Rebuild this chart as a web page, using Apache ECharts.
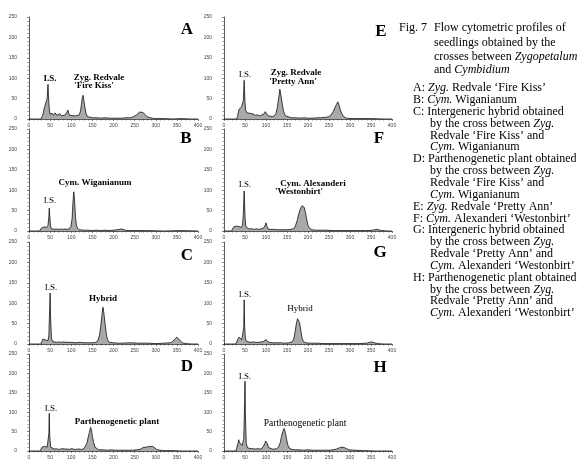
<!DOCTYPE html>
<html><head><meta charset="utf-8">
<script src="https://cdn.jsdelivr.net/npm/echarts@6/dist/echarts.min.js"></script>
<style>html,body{margin:0;padding:0;background:#fff}#c{width:581px;height:460px}</style>
</head><body><div id="c"></div>
<script>
// Flow cytometry histograms: [relative fluorescence channel, number of nuclei]
var histA = [[0,0],[28,0],[30,4],[33,10],[35,22],[37,30],[39,26],[41,34],[43,50],[44,70],[45,85],[46,60],[47,40],[48,25],[50,12],[52,8],[55,14],[58,9],[62,15],[66,9],[70,10],[73,13],[76,8],[80,8],[84,9],[88,12],[90,17],[92,22],[94,14],[96,9],[100,7],[104,8],[108,6],[112,8],[116,7],[119,10],[122,20],[124,35],[126,52],[128,58],[130,45],[132,30],[135,14],[138,6],[142,4],[150,3],[160,3],[170,2],[180,3],[190,2],[200,2],[210,2],[220,2],[230,3],[240,3],[248,6],[254,10],[258,14],[262,17],[266,19],[270,16],[274,12],[278,7],[284,4],[292,2],[300,1],[320,1],[340,0],[360,1],[380,0],[400,0]];
var histB = [[0,0],[25,0],[27,3],[30,8],[33,6],[36,10],[39,7],[42,9],[45,14],[47,35],[48,56],[49,40],[51,12],[53,6],[56,5],[60,4],[65,5],[70,4],[75,5],[80,4],[85,5],[90,4],[95,5],[99,10],[102,30],[104,70],[106,96],[108,72],[110,35],[112,15],[115,6],[120,3],[130,2],[140,2],[150,1],[160,2],[170,1],[180,2],[190,1],[200,2],[208,3],[211,6],[214,4],[217,7],[220,5],[223,3],[230,1],[250,1],[280,1],[320,0],[360,1],[400,0]];
var histC = [[0,0],[28,0],[30,5],[33,12],[36,15],[39,10],[42,14],[45,8],[47,20],[49,90],[50,125],[51,70],[53,15],[56,6],[60,5],[65,4],[70,5],[75,4],[80,5],[90,4],[100,4],[110,3],[120,4],[130,3],[140,3],[150,3],[158,4],[163,8],[167,22],[170,45],[173,75],[175,90],[177,78],[180,50],[183,25],[186,10],[190,4],[200,3],[210,2],[220,2],[240,3],[260,2],[280,2],[300,1],[320,2],[335,3],[340,6],[345,12],[350,17],[354,13],[358,8],[363,3],[370,1],[385,0],[400,0]];
var histD = [[0,0],[26,0],[28,4],[31,10],[34,15],[37,12],[40,16],[43,10],[45,12],[47,45],[48,97],[49,40],[51,10],[55,6],[60,5],[65,6],[70,4],[75,5],[80,6],[85,5],[90,5],[95,4],[100,6],[105,5],[110,4],[115,5],[120,5],[125,4],[130,6],[134,10],[137,20],[140,35],[143,48],[146,61],[148,52],[150,38],[153,22],[156,10],[160,5],[165,3],[175,3],[185,2],[195,3],[205,2],[215,2],[225,2],[235,2],[245,2],[255,3],[265,5],[270,9],[274,11],[278,10],[282,13],[286,12],[290,10],[294,11],[298,7],[302,4],[310,2],[320,1],[340,1],[360,0],[400,0]];
var histE = [[0,0],[30,0],[32,6],[34,15],[36,24],[38,28],[40,22],[42,30],[44,26],[46,45],[48,95],[50,40],[52,20],[55,15],[58,12],[62,14],[66,10],[70,12],[75,9],[80,10],[85,8],[90,10],[95,12],[98,18],[100,22],[102,15],[105,8],[110,7],[115,6],[120,8],[124,14],[127,28],[130,50],[133,73],[136,55],[139,35],[142,18],[146,8],[150,4],[160,3],[170,3],[180,2],[190,3],[200,2],[210,2],[220,3],[230,3],[240,4],[248,5],[255,10],[260,18],[264,28],[268,36],[271,42],[274,34],[277,22],[281,12],[286,5],[292,2],[300,1],[320,1],[350,1],[380,0],[400,0]];
var histF = [[0,0],[18,0],[20,4],[23,10],[26,14],[29,12],[32,16],[35,11],[38,13],[41,9],[44,14],[46,40],[48,98],[50,35],[52,10],[55,6],[60,5],[65,6],[70,4],[75,5],[80,5],[85,4],[90,6],[95,8],[98,14],[100,20],[102,12],[105,5],[110,4],[120,4],[130,3],[140,3],[150,3],[160,4],[166,6],[170,12],[174,25],[178,42],[182,55],[186,62],[188,66],[191,58],[194,45],[197,28],[200,14],[204,6],[210,3],[220,2],[240,2],[260,1],[280,1],[300,1],[320,1],[340,1],[355,2],[362,4],[368,3],[375,1],[390,0],[400,0]];
var histG = [[0,0],[28,0],[30,5],[33,12],[36,17],[39,14],[42,10],[45,12],[47,40],[48,108],[49,45],[51,12],[54,6],[58,5],[64,4],[70,5],[76,4],[82,4],[88,5],[94,6],[98,9],[100,11],[103,6],[108,4],[115,3],[125,3],[135,3],[145,2],[155,3],[162,5],[166,12],[169,28],[172,48],[175,62],[177,65],[180,52],[183,32],[186,14],[189,6],[194,3],[205,2],[220,2],[240,1],[260,1],[280,1],[300,1],[320,1],[340,2],[346,4],[352,5],[358,3],[365,1],[380,0],[400,0]];
var histH = [[0,0],[28,0],[30,6],[33,18],[35,29],[37,22],[39,26],[41,18],[43,14],[45,12],[47,30],[49,120],[50,180],[51,90],[53,20],[56,8],[60,7],[65,6],[70,6],[75,5],[80,6],[85,5],[90,6],[94,10],[97,18],[99,26],[101,29],[103,20],[106,9],[110,6],[115,5],[120,5],[125,6],[130,10],[134,22],[137,38],[140,50],[143,58],[146,48],[149,30],[152,15],[156,7],[162,4],[170,3],[180,3],[190,2],[200,3],[210,2],[220,2],[230,2],[240,2],[250,2],[260,3],[268,5],[274,8],[280,10],[286,9],[292,6],[298,3],[310,2],[330,1],[360,0],[400,0]];

var panelLetters = ['A','B','C','D','E','F','G','H'];
var panelData = [histA, histB, histC, histD, histE, histF, histG, histH];
var xTicks = {min: 0, max: 400, interval: 50};
var yTicks = {min: 0, max: 250, interval: 50};

var colLeft = [29, 224], colWidth = [169, 168];
var rowTop = [17, 129, 242, 354], rowH = [102, 102, 102, 103];

var grids = [], xAxes = [], yAxes = [], series = [];
for (var i = 0; i < 8; i++) {
  var col = i < 4 ? 0 : 1, row = i % 4;
  grids.push({left: colLeft[col], top: rowTop[row], width: colWidth[col], height: rowH[row]});
  xAxes.push({type: 'value', gridIndex: i, min: xTicks.min, max: xTicks.max, interval: xTicks.interval,
    axisLine: {lineStyle: {color: '#333', width: 0.8}}, axisTick: {length: 2, lineStyle: {color: '#333', width: 0.6}},
    minorTick: {show: true, splitNumber: 5, length: 1.5, lineStyle: {color: '#333', width: 0.5}},
    splitLine: {show: false},
    axisLabel: {fontSize: 5, color: '#444', margin: 4, fontFamily: 'Liberation Sans'}});
  yAxes.push({type: 'value', gridIndex: i, min: yTicks.min, max: yTicks.max, interval: yTicks.interval,
    axisLine: {show: true, lineStyle: {color: '#333', width: 0.8}}, axisTick: {show: true, length: 2, lineStyle: {color: '#333', width: 0.6}},
    minorTick: {show: true, splitNumber: 5, length: 1.5, lineStyle: {color: '#333', width: 0.5}},
    splitLine: {show: false},
    axisLabel: {fontSize: 5, color: '#444', margin: 12, fontFamily: 'Liberation Sans'}});
  series.push({type: 'line', name: panelLetters[i], xAxisIndex: i, yAxisIndex: i, data: panelData[i],
    symbol: 'none', animation: false,
    lineStyle: {color: '#111', width: 0.8},
    areaStyle: {color: '#a9a9a9', opacity: 1}});
}

var serif = 'Liberation Serif';
var graphics = [];
function txt(t, x, y, size, bold, align, rich) {
  var s = {text: t, x: x, y: y, fill: '#000', font: (bold ? 'bold ' : '') + size + 'px "' + serif + '"',
    align: align || 'center', verticalAlign: 'middle'};
  if (rich) s.rich = rich;
  graphics.push({type: 'text', silent: true, style: s});
}
// Panel letters
var letterPos = [[187,30],[186,139],[187,256],[187,367],[381,32],[379,139],[380,253],[380,368]];
for (var k = 0; k < 8; k++) txt(panelLetters[k], letterPos[k][0], letterPos[k][1], 17, true);

// Peak annotations
var annots = [
  ['I.S.', 50, 79, 9, true], ['Zyg. Redvale', 99, 78, 9, true], ["'Fire Kiss'", 94, 86, 9, true],
  ['I.S.', 245, 75, 9, false], ['Zyg. Redvale', 296, 73, 9, true], ["'Pretty Ann'", 293, 82, 9, true],
  ['I.S.', 50, 201, 9, false], ['Cym. Wiganianum', 95, 183, 9, true],
  ['I.S.', 245, 185, 9, false], ['Cym. Alexanderi', 313, 184, 9, true], ["'Westonbirt'", 299, 192, 9, true],
  ['I.S.', 51, 288, 9, false], ['Hybrid', 103, 299, 9, true],
  ['I.S.', 245, 295, 9, false], ['Hybrid', 300, 309, 9, false],
  ['I.S.', 51, 409, 9, false], ['Parthenogenetic plant', 117, 422, 9, true],
  ['I.S.', 245, 377, 9, false], ['Parthenogenetic plant', 305, 423, 9.5, false]
];
annots.forEach(function(a){ txt(a[0], a[1], a[2], a[3], a[4]); });

// Caption
var rich = {i: {fontStyle: 'italic', fontSize: 12, fontFamily: serif}};
txt('Fig. 7', 399, 28, 12, false, 'left');
var capHead = ['Flow cytometric profiles of', 'seedlings obtained by the', 'crosses between {i|Zygopetalum}', 'and {i|Cymbidium}'];
var capHeadY = [28, 43, 57, 70];
capHead.forEach(function(t, j){ txt(t, 434, capHeadY[j], 12, false, 'left', rich); });
var capLines = [
  ['A: {i|Zyg.} Redvale \u2018Fire Kiss\u2019', 0],
  ['B: {i|Cym.} Wiganianum', 0],
  ['C: Intergeneric hybrid obtained', 0],
  ['by the cross between {i|Zyg.}', 1],
  ['Redvale \u2018Fire Kiss\u2019 and', 1],
  ['{i|Cym.} Wiganianum', 1],
  ['D: Parthenogenetic plant obtained', 0],
  ['by the cross between {i|Zyg.}', 1],
  ['Redvale \u2018Fire Kiss\u2019 and', 1],
  ['{i|Cym.} Wiganianum', 1],
  ['E: {i|Zyg.} Redvale \u2018Pretty Ann\u2019', 0],
  ['F: {i|Cym.} Alexanderi \u2018Westonbirt\u2019', 0],
  ['G: Intergeneric hybrid obtained', 0],
  ['by the cross between {i|Zyg.}', 1],
  ['Redvale \u2018Pretty Ann\u2019 and', 1],
  ['{i|Cym.} Alexanderi \u2018Westonbirt\u2019', 1],
  ['H: Parthenogenetic plant obtained', 0],
  ['by the cross between {i|Zyg.}', 1],
  ['Redvale \u2018Pretty Ann\u2019 and', 1],
  ['{i|Cym.} Alexanderi \u2018Westonbirt\u2019', 1]
];
capLines.forEach(function(c, j){ txt(c[0], c[1] ? 430 : 413, 88 + j * 11.85, 12, false, 'left', rich); });

var chart = echarts.init(document.getElementById('c'), null, {renderer: 'canvas'});
chart.setOption({animation: false, backgroundColor: '#fff', grid: grids, xAxis: xAxes, yAxis: yAxes, series: series, graphic: graphics});
</script></body></html>
